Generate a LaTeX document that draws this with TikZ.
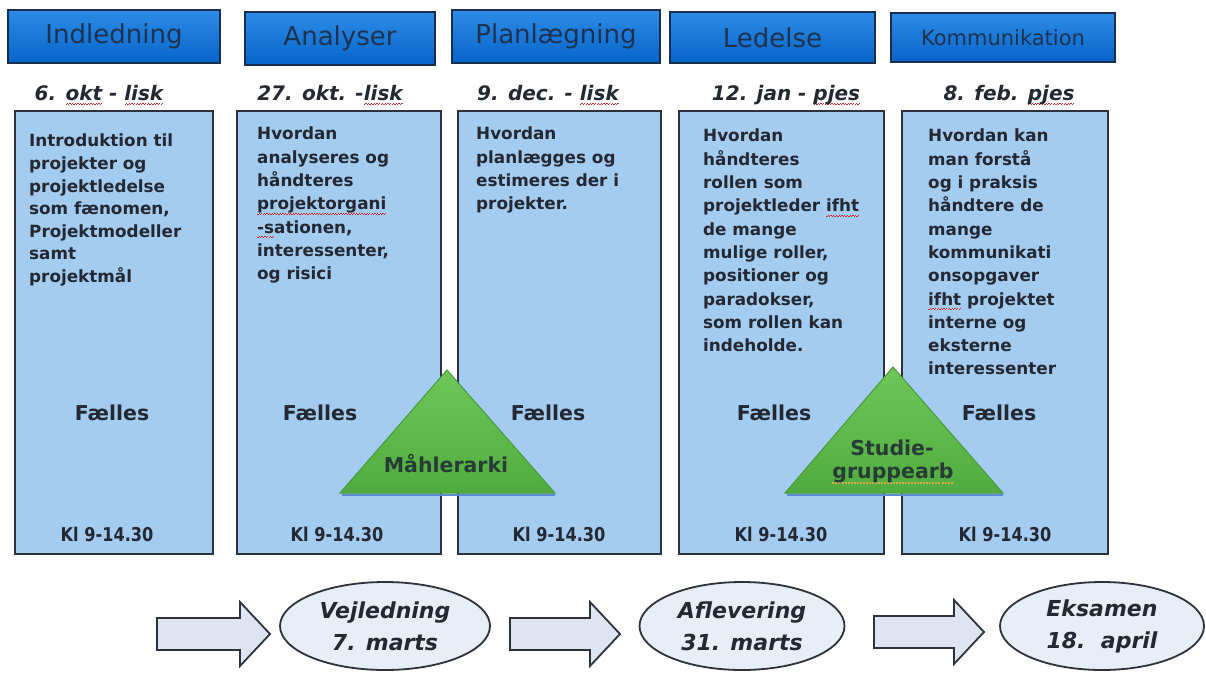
\documentclass[tikz,border=0pt]{standalone}
\usepackage{fontspec}
\setmainfont{DejaVu Sans}
\newfontfamily\narrowfont[FakeStretch=0.85]{DejaVu Sans}
\usetikzlibrary{shapes.geometric}
\definecolor{hdrtop}{RGB}{45,140,230}
\definecolor{hdrbot}{RGB}{5,100,200}
\definecolor{hdredge}{RGB}{25,45,80}
\definecolor{hdrtxt}{RGB}{30,50,80}
\definecolor{colfill}{RGB}{164,204,240}
\definecolor{coledge}{RGB}{45,50,60}
\definecolor{txtc}{RGB}{35,40,50}
\definecolor{tritop}{RGB}{112,198,88}
\definecolor{tribot}{RGB}{80,172,62}
\definecolor{triedge}{RGB}{70,155,60}
\definecolor{trishadow}{RGB}{90,140,210}
\definecolor{tritxt}{RGB}{40,60,55}
\definecolor{arrfill}{RGB}{222,228,240}
\definecolor{ellfill}{RGB}{232,238,248}
\definecolor{squig}{RGB}{215,40,40}
\definecolor{tanc}{RGB}{215,170,80}
\newcommand\redsq[1]{\leavevmode\setbox0=\hbox{#1}\rlap{\hbox to \wd0{\color{squig}\xleaders\hbox{\rule[-4.6pt]{1.3pt}{0.9pt}\rule[-3.6pt]{1.3pt}{0.9pt}}\hfill}}\box0\relax}
\newcommand\tanln[1]{\leavevmode\setbox0=\hbox{#1}\rlap{\hbox to \wd0{\color{tanc}\xleaders\hbox{\rule[-6pt]{2pt}{2pt}\kern1pt}\hfill}}\box0\relax}
\begin{document}
\begin{tikzpicture}[x=1pt,y=-1pt,
  hdr/.style={draw=hdredge, line width=1.5pt, top color=hdrtop, bottom color=hdrbot, text=hdrtxt, font=\fontsize{26}{30}\selectfont, inner sep=0pt},
  datelbl/.style={font=\fontsize{20}{24}\selectfont\bfseries\itshape, text=txtc, anchor=base, inner sep=0pt},
  colbox/.style={draw=coledge, line width=2pt, fill=colfill, anchor=north west, inner sep=0pt},
  body/.style={font=\fontsize{16.8}{23.3}\selectfont\bfseries, text=txtc, align=left, anchor=north west, inner sep=0pt},
  faelles/.style={font=\fontsize{20.5}{24}\selectfont\bfseries, text=txtc, inner sep=0pt},
  kl/.style={font=\narrowfont\fontsize{19}{22}\selectfont\bfseries, text=txtc, inner sep=0pt},
  tri/.style={top color=tritop, bottom color=tribot, draw=triedge, line width=1pt},
  trilbl/.style={font=\fontsize{20.5}{24}\selectfont\bfseries, text=tritxt, anchor=base, inner sep=0pt},
  blockarrow/.style={fill=arrfill, draw=coledge, line width=1.8pt, line join=miter},
  ell/.style={ellipse, draw=coledge, line width=1.8pt, fill=ellfill, inner sep=0pt, align=center, font=\fontsize{22}{32}\selectfont\bfseries\itshape, text=txtc}
]
\useasboundingbox (0,0) rectangle (1206,672);
\fill[white] (0,0) rectangle (1206,672);

% header boxes
\node[hdr, minimum width=212pt, minimum height=53pt] (h1) at (114,36.5) {Indledning};
\node[hdr, minimum width=190pt, minimum height=53pt] (h2) at (340,38.5) {Analyser};
\node[hdr, minimum width=208pt, minimum height=53pt] (h3) at (556,36.5) {Planlægning};
\node[hdr, minimum width=205pt, minimum height=51pt] (h4) at (772.5,37.5) {Ledelse};
\node[hdr, minimum width=224pt, minimum height=49pt, font=\fontsize{21}{25}\selectfont] (h5) at (1003,37.5) {Kommunikation};

% dates
\node[datelbl] (d1) at (99,100) {6. \redsq{okt} - \redsq{lisk}};
\node[datelbl] (d2) at (330,100) {27. okt. -\redsq{lisk}};
\node[datelbl] (d3) at (548,100) {9. dec. - \redsq{lisk}};
\node[datelbl] (d4) at (786,100) {12. jan - \redsq{pjes}};
\node[datelbl] (d5) at (1009,100) {8. feb. \redsq{pjes}};

% columns
\node[colbox, minimum width=198pt, minimum height=443pt] (c1) at (14,110) {};
\node[colbox, minimum width=204pt, minimum height=443pt] (c2) at (236,110) {};
\node[colbox, minimum width=203pt, minimum height=443pt] (c3) at (457,110) {};
\node[colbox, minimum width=205pt, minimum height=443pt] (c4) at (678,110) {};
\node[colbox, minimum width=206pt, minimum height=443pt] (c5) at (901,110) {};

% column texts
\node[body, font=\fontsize{16.8}{22.6}\selectfont\bfseries] (t1) at (29,134) {Introduktion til\\projekter og\\projektledelse\\som fænomen,\\Projektmodeller\\samt\\projektmål};
\node[body] (t2) at (257,127) {Hvordan\\analyseres og\\håndteres\\\redsq{projektorgani}\\\redsq{-s}ationen,\\interessenter,\\og risici};
\node[body] (t3) at (476,127) {Hvordan\\planlægges og\\estimeres der i\\projekter.};
\node[body] (t4) at (703,129) {Hvordan\\håndteres\\rollen som\\projektleder \redsq{ifht}\\de mange\\mulige roller,\\positioner og\\paradokser,\\som rollen kan\\indeholde.};
\node[body] (t5) at (928,129) {Hvordan kan\\man forstå\\og i praksis\\håndtere de\\mange\\kommunikati\\onsopgaver\\\redsq{ifht} projektet\\interne og\\eksterne\\interessenter};

% Faelles
\node[faelles] (f1) at (112,413) {Fælles};
\node[faelles] (f2) at (320,413) {Fælles};
\node[faelles] (f3) at (548,413) {Fælles};
\node[faelles] (f4) at (774,413) {Fælles};
\node[faelles] (f5) at (999,413) {Fælles};

% Kl
\node[kl] (k1) at (107,534) {Kl 9-14.30};
\node[kl] (k2) at (337,534) {Kl 9-14.30};
\node[kl] (k3) at (559,534) {Kl 9-14.30};
\node[kl] (k4) at (781,534) {Kl 9-14.30};
\node[kl] (k5) at (1005,534) {Kl 9-14.30};

% triangles
\draw[trishadow, line width=2.5pt] (342,495) -- (555,495);
\draw[tri] (340,493) -- (447,370) -- (555,493) -- cycle;
\node[trilbl] (m1) at (446,472) {Måhlerarki};
\draw[trishadow, line width=2.5pt] (787,495) -- (1003,495);
\draw[tri] (785,493) -- (893,367) -- (1003,493) -- cycle;
\node[trilbl] (s1) at (892,455) {Studie-};
\node[trilbl] (s2) at (893,478) {\tanln{gruppearb}};

% bottom ellipses
\node[ell, minimum width=210pt, minimum height=88pt] (e1) at (385,626) {Vejledning\\7. marts};
\node[ell, minimum width=205pt, minimum height=88pt] (e2) at (742,626) {Aflevering\\31. marts};
\node[ell, minimum width=204pt, minimum height=88pt] (e3) at (1102,626) {Eksamen\\18.~~april};

% block arrows
\draw[blockarrow] (157,618) -- (240,618) -- (240,602) -- (270,634) -- (240,666) -- (240,650) -- (157,650) -- cycle;
\draw[blockarrow] (510,618) -- (590,618) -- (590,602) -- (620,634) -- (590,666) -- (590,650) -- (510,650) -- cycle;
\draw[blockarrow] (874,616) -- (954,616) -- (954,600) -- (984,632) -- (954,664) -- (954,648) -- (874,648) -- cycle;
\end{tikzpicture}
\end{document}
